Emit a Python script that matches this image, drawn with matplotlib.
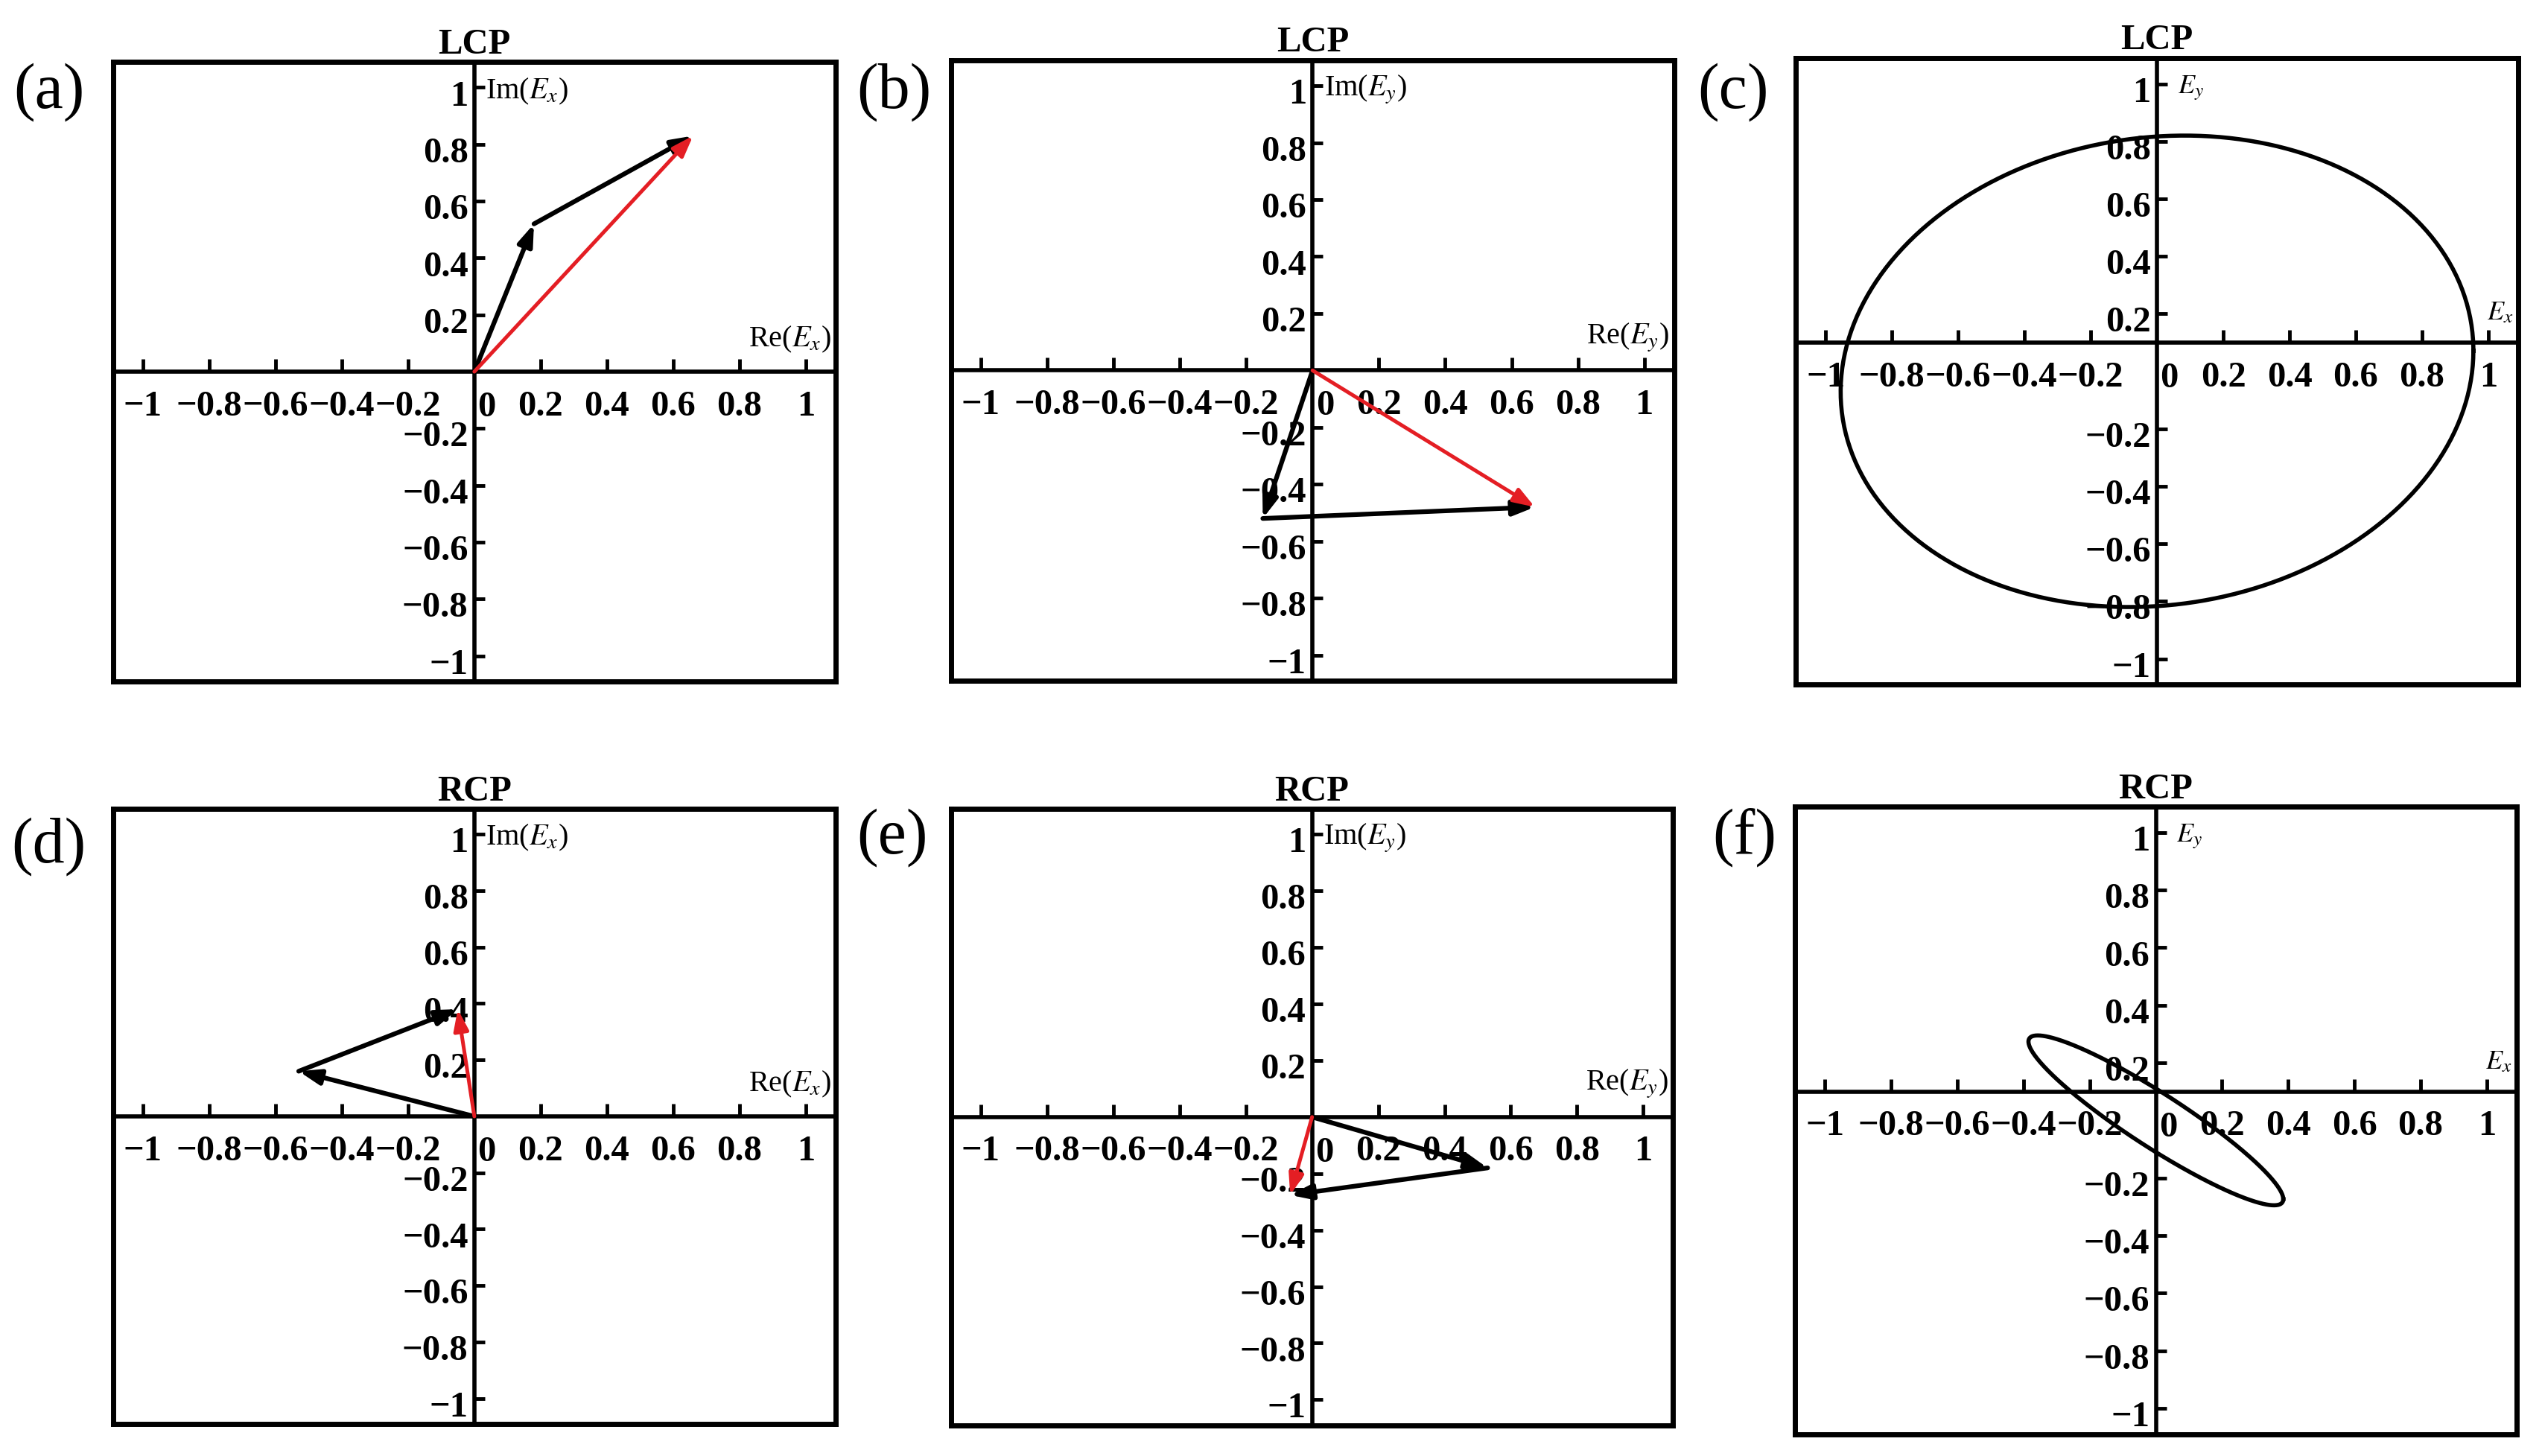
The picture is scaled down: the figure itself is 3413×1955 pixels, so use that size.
import numpy as np
import matplotlib
matplotlib.use("Agg")
import matplotlib.pyplot as plt

plt.rcParams['font.family'] = ['Liberation Serif', 'DejaVu Serif']
plt.rcParams['mathtext.fontset'] = 'stix'

# tick positions / labels shared by every panel (0 is labelled separately)
tick_vals = [-1, -0.8, -0.6, -0.4, -0.2, 0.2, 0.4, 0.6, 0.8, 1]
tick_text = ['\u22121', '\u22120.8', '\u22120.6', '\u22120.4', '\u22120.2',
             '0.2', '0.4', '0.6', '0.8', '1']

# phasor pieces (black = parts, red = resultant)
lcp_ex_parts = [(0.18, 0.52), (0.48, 0.31)]
lcp_ex_total = (0.66, 0.83)
lcp_ey_parts = [(-0.15, -0.52), (0.82, 0.04)]
lcp_ey_total = (0.67, -0.48)
rcp_ex_parts = [(-0.53, 0.16), (0.48, 0.22)]
rcp_ex_total = (-0.05, 0.38)
rcp_ey_parts = [(0.53, -0.18), (-0.596, -0.096)]
rcp_ey_total = (-0.066, -0.276)

# polarization ellipses: Ex amplitude, Ey amplitude, phase of Ey vs Ex (deg)
lcp_ellipse = (0.955, 0.82, 85)
rcp_ellipse = (0.385, 0.295, 158)

# where the horizontal axis line sits in each panel
axis_y = {'a': 0, 'b': 0, 'c': 0.1, 'd': 0, 'e': 0, 'f': 0.1}

RED = '#e41e24'
LIM = 1.09

fig = plt.figure(figsize=(34.13, 19.56), dpi=100)

boxes = {
    'a': [0.0445, 0.5317, 0.2842, 0.4253],
    'b': [0.3741, 0.5322, 0.2845, 0.4260],
    'c': [0.7065, 0.5295, 0.2841, 0.4302],
    'd': [0.0445, 0.0221, 0.2842, 0.4221],
    'e': [0.3741, 0.0212, 0.2841, 0.4230],
    'f': [0.7062, 0.0150, 0.2838, 0.4308],
}
letter_pos = {'a': (0.0053, 0.957), 'b': (0.337, 0.957), 'c': (0.6677, 0.957),
              'd': (0.0044, 0.439), 'e': (0.337, 0.4453), 'f': (0.6736, 0.4453)}
titles = {'a': 'LCP', 'b': 'LCP', 'c': 'LCP', 'd': 'RCP', 'e': 'RCP', 'f': 'RCP'}


def setup(ax, y0, xlab, ylab, lab_size, ylab_dx):
    ax.set_xlim(-LIM, LIM)
    ax.set_ylim(-LIM, LIM)
    ax.set_xticks([])
    ax.set_yticks([])
    for s in ax.spines.values():
        s.set_linewidth(5)
    ax.axhline(y0, color='k', lw=4, zorder=1)
    ax.axvline(0, color='k', lw=4, zorder=1)
    # ticks: up from the horizontal line, right from the vertical line
    ax.plot(tick_vals, [y0] * len(tick_vals), ls='none', marker=2, ms=12,
            mew=3.5, color='k', zorder=1)
    ax.plot([0] * len(tick_vals), tick_vals, ls='none', marker=1, ms=10,
            mew=3.5, color='k', zorder=1)
    for v, s in zip(tick_vals, tick_text):
        ax.annotate(s, (v, y0), xytext=(0, -17), textcoords='offset points',
                    ha='center', va='top', fontsize=35, fontweight='bold', zorder=2)
        ax.annotate(s, (0, v), xytext=(-6, -8), textcoords='offset points',
                    ha='right', va='center', fontsize=35, fontweight='bold', zorder=2)
    ax.annotate('0', (0, y0), xytext=(12, -18), textcoords='offset points',
                ha='center', va='top', fontsize=35, fontweight='bold', zorder=2)
    ax.annotate(ylab, (0, 1.0), xytext=(ylab_dx, -3), textcoords='offset points',
                ha='left', va='center', fontsize=lab_size)
    ax.annotate(xlab, (1.075, y0), xytext=(0, 17), textcoords='offset points',
                ha='right', va='bottom', fontsize=lab_size)


def arrow(ax, start, vec, color, lw):
    end = (start[0] + vec[0], start[1] + vec[1])
    ax.annotate('', xy=end, xytext=start, zorder=5,
                arrowprops=dict(arrowstyle='-|>,head_length=0.85,head_width=0.3',
                                mutation_scale=20, color=color, lw=lw,
                                shrinkA=0, shrinkB=0))
    return end


def phasors(ax, parts, total):
    p = (0, 0)
    for v in parts:
        p = arrow(ax, p, v, 'k', 4.5)
    arrow(ax, (0, 0), total, RED, 3.6)


def ellipse(ax, params):
    amp_x, amp_y, ph = params
    t = np.linspace(0, 2 * np.pi, 400)
    ax.plot(amp_x * np.cos(t), amp_y * np.cos(t + np.deg2rad(ph)),
            color='k', lw=4, zorder=4)


axes = {}
for k, b in boxes.items():
    ax = fig.add_axes(b)
    axes[k] = ax
    ax.set_title(titles[k], fontsize=35, fontweight='bold', pad=9)
    fig.text(letter_pos[k][0], letter_pos[k][1], '(' + k + ')', fontsize=62,
             ha='left', va='top')

setup(axes['a'], axis_y['a'], r'Re($E_x$)', r'Im($E_x$)', 29, 11)
setup(axes['b'], axis_y['b'], r'Re($E_y$)', r'Im($E_y$)', 29, 11)
setup(axes['c'], axis_y['c'], r'$E_x$', r'$E_y$', 26, 20)
setup(axes['d'], axis_y['d'], r'Re($E_x$)', r'Im($E_x$)', 29, 11)
setup(axes['e'], axis_y['e'], r'Re($E_y$)', r'Im($E_y$)', 29, 11)
setup(axes['f'], axis_y['f'], r'$E_x$', r'$E_y$', 26, 20)

phasors(axes['a'], lcp_ex_parts, lcp_ex_total)
phasors(axes['b'], lcp_ey_parts, lcp_ey_total)
ellipse(axes['c'], lcp_ellipse)
phasors(axes['d'], rcp_ex_parts, rcp_ex_total)
phasors(axes['e'], rcp_ey_parts, rcp_ey_total)
ellipse(axes['f'], rcp_ellipse)

fig.savefig('out.png', dpi=100)
